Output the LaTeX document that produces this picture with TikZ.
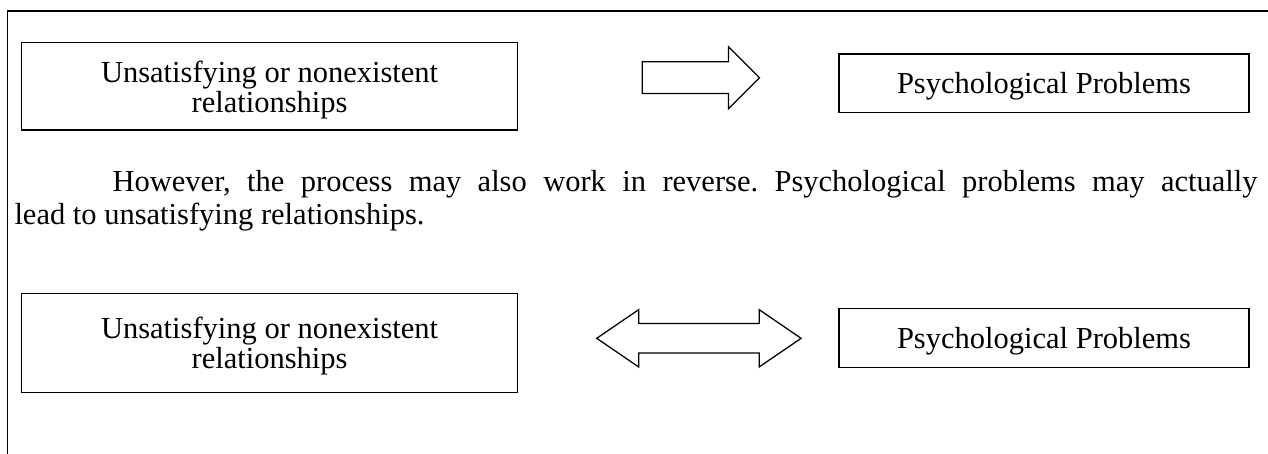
\documentclass[tikz,border=0pt]{standalone}
\usepackage{fontspec}
\setmainfont{Liberation Serif}
\usetikzlibrary{shapes.arrows}

\begin{document}
\frenchspacing
\begin{tikzpicture}[x=0.3934pt, y=-0.3934pt,
    box/.style={draw, line width=0.5pt, inner sep=0pt, align=center, text depth=0pt,
      minimum width=195.2pt, font=\fontsize{12pt}{11.8pt}\selectfont},
    thinbox/.style={draw, line width=0.5pt, inner sep=0pt, text depth=0pt,
      minimum width=161.3pt, minimum height=22.9pt, font=\fontsize{12pt}{14pt}\selectfont},
    block/.style={draw, line width=0.5pt, fill=white, inner xsep=0pt}]
  \useasboundingbox (0,0) rectangle (1268,453);

  % frame
  \draw[line width=0.75pt] (7.5,470) -- (7.5,11) -- (1280,11);

  \node (rel1) [box, minimum height=34.4pt] at (269.6,86.3) {
    Unsatisfying or nonexistent\\ relationships
  };

  \node (arr1) [block, single arrow, anchor=tail, minimum height=46.1pt,
    inner ysep=6pt, single arrow head extend=6pt,
    single arrow tip angle=90] at (641.7,77.7) {};

  \node (psy1) [thinbox] at (1044,83.2) {Psychological Problems};

  \node (text) [anchor=north west, inner sep=0pt, text width=489pt, align=justify,
    font=\fontsize{12pt}{13pt}\selectfont] at (14,169.5) {
    \hspace*{38.6pt}However, the process may also work in reverse. Psychological
    problems may actually\linebreak lead to unsatisfying relationships.
  };

  \node (rel2) [box, minimum height=38.9pt] at (269.6,342.8) {
    Unsatisfying or nonexistent\\ relationships
  };

  \node (arr2) [block, double arrow, minimum height=80.4pt,
    inner ysep=5.57pt, double arrow head extend=5.45pt,
    double arrow tip angle=68.7] at (698.9,338.3) {};

  \node (psy2) [thinbox, minimum height=23.2pt] at (1044,337.8) {Psychological Problems};
\end{tikzpicture}
\end{document}
